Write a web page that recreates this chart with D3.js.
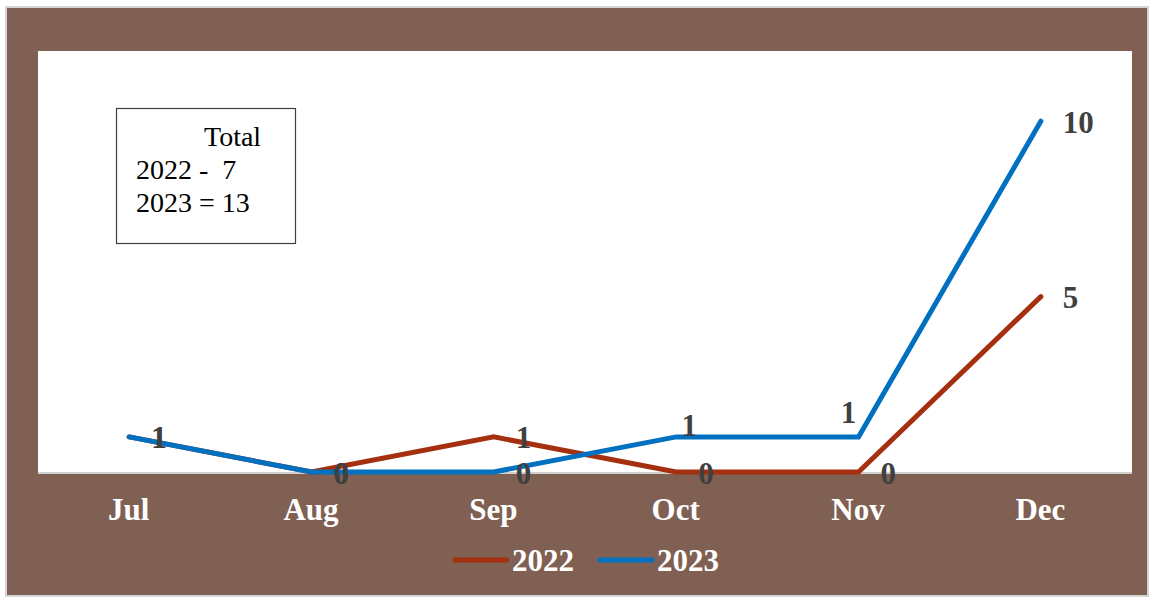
<!DOCTYPE html>
<html>
<head>
  <meta charset="utf-8" />
  <title>Monthly count 2022 vs 2023</title>
  <script src="https://cdn.jsdelivr.net/npm/d3@7"></script>
  <style>
    body { margin: 0; background: #ffffff; }
    svg { display: block; font-family: "Liberation Serif", "Times New Roman", serif; }
  </style>
</head>
<body>
  <svg id="chart" width="1150" height="597"></svg>
  <script>
    // data
    var months = ["Jul", "Aug", "Sep", "Oct", "Nov", "Dec"];
    var values2022 = [1, 0, 1, 0, 0, 5];
    var values2023 = [1, 0, 0, 1, 1, 10];
    var seriesNames = ["2022", "2023"];
    var totalLines = ["Total", "2022 -  7", "2023 = 13"];

    var colors = { "2022": "#a5300f", "2023": "#0070c0" };

    var svg = d3.select("#chart");

    // outer frame + brown background
    svg.append("rect")
      .attr("x", 6).attr("y", 7).attr("width", 1142).attr("height", 589)
      .attr("fill", "#7f6053").attr("stroke", "#d4d4d4").attr("stroke-width", 2);

    var plot = { left: 38, top: 51, right: 1132, bottom: 472 };

    svg.append("rect")
      .attr("x", plot.left).attr("y", plot.top)
      .attr("width", plot.right - plot.left).attr("height", plot.bottom - plot.top)
      .attr("fill", "#ffffff");

    var x = d3.scalePoint().domain(months).range([plot.left, plot.right]).padding(0.5);
    var y = d3.scaleLinear().domain([0, 12]).range([plot.bottom, plot.top]);

    // zero line
    svg.append("line")
      .attr("x1", plot.left).attr("x2", plot.right)
      .attr("y1", y(0) + 1).attr("y2", y(0) + 1)
      .attr("stroke", "#d0d0d0").attr("stroke-width", 2);

    // category axis (white bold labels)
    var xAxis = svg.append("g")
      .attr("transform", "translate(-1," + (plot.bottom + 26) + ")")
      .call(d3.axisBottom(x).tickSize(0).tickPadding(0));
    xAxis.select(".domain").remove();
    xAxis.selectAll("text")
      .attr("fill", "#ffffff")
      .attr("font-size", 31)
      .attr("font-weight", "bold")
      .attr("font-family", "Liberation Serif, serif")
      .attr("dy", "0.7em");

    var series = [
      { name: "2022", values: values2022 },
      { name: "2023", values: values2023 }
    ];

    var line = d3.line()
      .x(function (d, i) { return x(months[i]); })
      .y(function (d) { return y(d); });

    series.forEach(function (s) {
      svg.append("path")
        .datum(s.values)
        .attr("d", line)
        .attr("fill", "none")
        .attr("stroke", colors[s.name])
        .attr("stroke-width", 5)
        .attr("stroke-linecap", "round")
        .attr("stroke-linejoin", "miter");
    });

    // label nudges (most sit to the right of the point)
    var labelShift = {
      "2023-Oct": [13, -11],
      "2023-Nov": [-10, -24]
    };

    series.forEach(function (s) {
      svg.append("g").selectAll("text")
        .data(s.values)
        .join("text")
        .attr("x", function (d, i) {
          var k = labelShift[s.name + "-" + months[i]];
          return x(months[i]) + (k ? k[0] : 22);
        })
        .attr("y", function (d, i) {
          var k = labelShift[s.name + "-" + months[i]];
          return y(d) + (k ? k[1] : 1);
        })
        .attr("text-anchor", function (d, i) {
          return labelShift[s.name + "-" + months[i]] ? "middle" : "start";
        })
        .attr("dominant-baseline", "central")
        .attr("font-size", 31)
        .attr("font-weight", "bold")
        .attr("fill", "#404040")
        .text(function (d) { return d; });
    });

    // legend
    var legend = svg.append("g").attr("transform", "translate(455,560)");
    seriesNames.forEach(function (name, i) {
      var g = legend.append("g").attr("transform", "translate(" + (i * 145) + ",0)");
      g.append("line")
        .attr("x1", 0).attr("x2", 52).attr("y1", 0).attr("y2", 0)
        .attr("stroke", colors[name]).attr("stroke-width", 5)
        .attr("stroke-linecap", "round");
      g.append("text")
        .attr("x", 57).attr("y", 0)
        .attr("dominant-baseline", "central")
        .attr("font-size", 31).attr("font-weight", "bold")
        .attr("fill", "#ffffff")
        .text(name);
    });

    // totals text box
    var box = svg.append("g");
    box.append("rect")
      .attr("x", 116.5).attr("y", 108.5).attr("width", 179).attr("height", 135)
      .attr("fill", "#ffffff").attr("stroke", "#404040").attr("stroke-width", 1.2);
    box.selectAll("text")
      .data(totalLines)
      .join("text")
      .attr("x", function (d, i) { return i === 0 ? 204 : 136; })
      .attr("y", function (d, i) { return 146 + i * 33; })
      .attr("font-size", 28)
      .attr("fill", "#000000")
      .attr("xml:space", "preserve")
      .style("white-space", "pre")
      .text(function (d) { return d; });
  </script>
</body>
</html>
